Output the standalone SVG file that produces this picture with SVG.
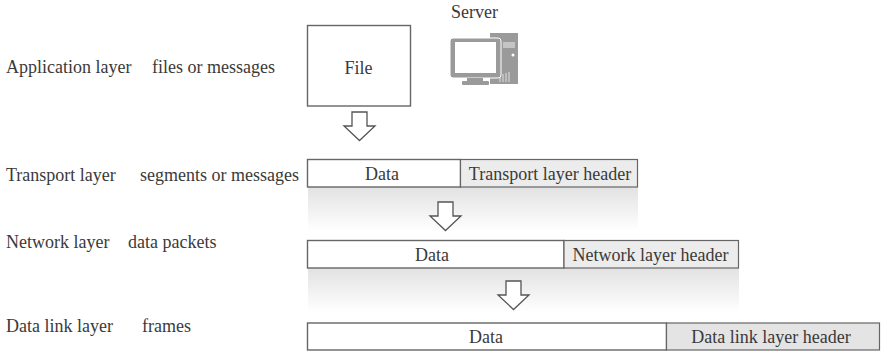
<svg xmlns="http://www.w3.org/2000/svg" width="882" height="352" viewBox="0 0 882 352">
<defs>
<style>
text{font-family:"Liberation Serif","Times New Roman",serif;font-size:18px;fill:#3a3a3a}
.m{text-anchor:middle}
.b{fill:#fff;stroke:#666;stroke-width:1.4}
.h{fill:#ececec;stroke:#666;stroke-width:1.2}
.a{fill:#fff;stroke:#555;stroke-width:1.3;stroke-linejoin:miter}
</style>
<linearGradient id="g" x1="0" y1="0" x2="0" y2="1"><stop offset="0" stop-color="#e2e2e2"/><stop offset="1" stop-color="#fff"/></linearGradient>
<path id="ar" class="a" d="M-7.500 0H7.500V14H15.500L0 28.500L-15.500 14H-7.500Z"/>
</defs>
<rect width="882" height="352" fill="#fff"/>
<g id="labels">
<text x="6" y="73">Application layer</text><text x="152" y="73">files or messages</text>
<text x="6" y="181">Transport layer</text><text x="140" y="181">segments or messages</text>
<text x="6" y="248">Network layer</text><text x="128" y="248">data packets</text>
<text x="6" y="332">Data link layer</text><text x="142" y="332">frames</text>
</g>
<g id="shadows">
<rect x="308" y="187" width="330" height="44" fill="url(#g)"/>
<rect x="308" y="268" width="431" height="44" fill="url(#g)"/>
</g>
<g id="file"><rect class="b" x="307.500" y="25.500" width="103" height="80.500"/><text class="m" x="358.500" y="74">File</text></g>
<g id="server">
<text class="m" x="474.500" y="18">Server</text>
<path fill="#9a9a9a" d="M490 33H518V84H490Z"/>
<rect x="503" y="42" width="12" height="6" fill="#c4c4c4"/>
<circle cx="513" cy="55" r="1.500" fill="#fff"/>
<path d="M500 75V82M503 74V82M506 73V82M509 72V82" stroke="#e0e0e0" stroke-width="1"/>
<rect x="450" y="38" width="51" height="40" rx="3" fill="#9a9a9a" stroke="#fff" stroke-width="1"/>
<rect x="455" y="42" width="41" height="31" fill="#fff"/>
<rect x="467" y="78" width="16" height="3" fill="#9a9a9a"/>
<rect x="462" y="81" width="27" height="4" rx="1" fill="#9a9a9a"/>
</g>
<g id="transport"><rect class="b" x="307.500" y="159.500" width="153" height="27.500"/><rect class="h" x="460.500" y="159.500" width="177" height="27.500"/><text class="m" x="382" y="180">Data</text><text class="m" x="550" y="180">Transport layer header</text></g>
<g id="network"><rect class="b" x="307.500" y="240.500" width="256.500" height="27.500"/><rect class="h" x="564" y="240.500" width="174.500" height="27.500"/><text class="m" x="432" y="261">Data</text><text class="m" x="650.500" y="261">Network layer header</text></g>
<g id="datalink"><rect class="b" x="307.500" y="323" width="359" height="27"/><rect class="h" x="666.500" y="323" width="213" height="27" style="fill:#e4e4e4"/><text class="m" x="486" y="343">Data</text><text class="m" x="771" y="343">Data link layer header</text></g>
<g id="connectors">
<use href="#ar" x="359.500" y="112"/>
<use href="#ar" x="445.500" y="202"/>
<use href="#ar" x="513.500" y="281"/>
</g>
</svg>
